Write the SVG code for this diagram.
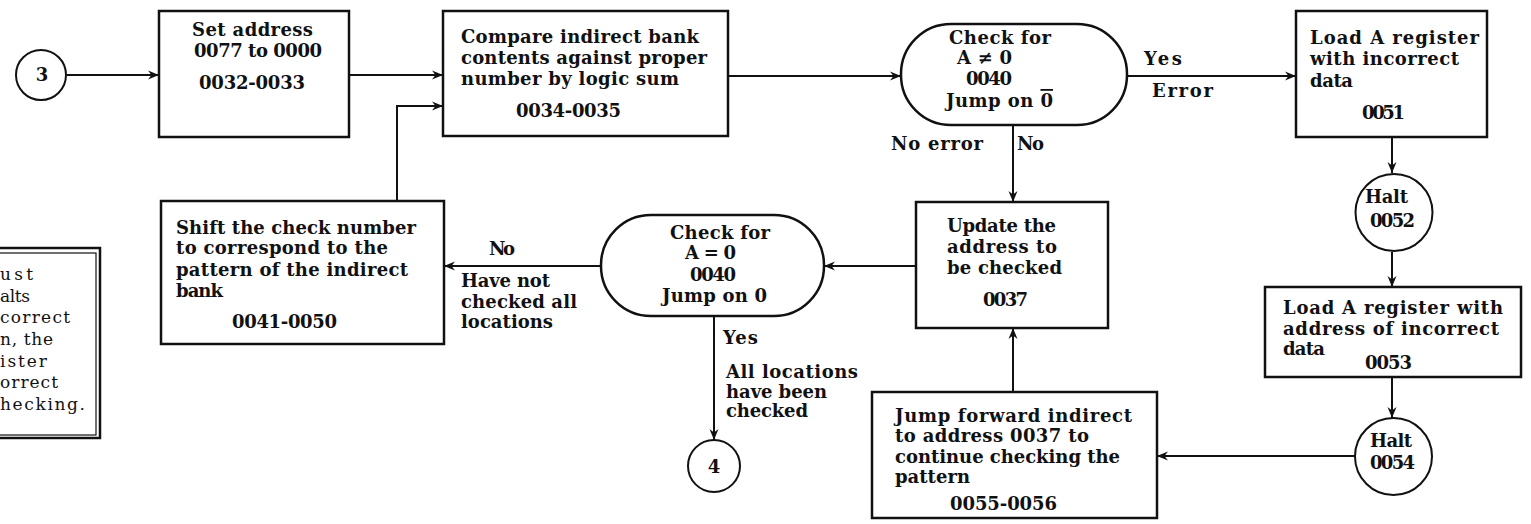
<svg xmlns="http://www.w3.org/2000/svg" width="1531" height="524" viewBox="0 0 1531 524">
<style>
.box{fill:#fff;stroke:#111;stroke-width:2.5}
.t{font-family:"DejaVu Serif","Liberation Serif",serif;font-weight:bold;font-size:18px;fill:#111}
.n{font-family:"DejaVu Serif","Liberation Serif",serif;font-size:17px;fill:#111}
.c{stroke:#111;stroke-width:2;fill:none;marker-end:url(#ah)}
</style>
<defs>
<marker id="ah" markerWidth="12" markerHeight="10" refX="11" refY="5" orient="auto" markerUnits="userSpaceOnUse">
<path d="M0,0.5 L11,5 L0,9.5 L3.5,5 Z" fill="#111"/>
</marker>
</defs>
<rect width="1531" height="524" fill="#fff"/>

<g id="connectors">
<path class="c" d="M67,75 L159,75"/>
<path class="c" d="M349,75 L443,75"/>
<path class="c" d="M397,201 L397,106 L443,106"/>
<path class="c" d="M728,76 L901,76"/>
<path class="c" d="M1127,76 L1296,76"/>
<path class="c" d="M1013,125 L1013,202"/>
<path class="c" d="M1392,137 L1392,173"/>
<path class="c" d="M1392,252 L1392,287"/>
<path class="c" d="M1392,377 L1392,418"/>
<path class="c" d="M1355,456 L1157,456"/>
<path class="c" d="M1013,392 L1013,328"/>
<path class="c" d="M916,266 L824,266"/>
<path class="c" d="M601,266 L444,266"/>
<path class="c" d="M714,316 L714,440"/>
</g>

<g id="labels">
<text class="t" x="1144" y="65" textLength="38">Yes</text>
<text class="t" x="1152" y="97" textLength="61">Error</text>
<text class="t" x="891" y="150" textLength="92">No error</text>
<text class="t" x="1017" y="150" textLength="27">No</text>
<text class="t" x="489" y="255" textLength="26">No</text>
<text class="t" x="461" y="287" textLength="89">Have not</text>
<text class="t" x="461" y="308" textLength="116">checked all</text>
<text class="t" x="461" y="328" textLength="92">locations</text>
<text class="t" x="723" y="344" textLength="35">Yes</text>
<text class="t" x="726" y="378" textLength="132">All locations</text>
<text class="t" x="726" y="398" textLength="101">have been</text>
<text class="t" x="726" y="417" textLength="82">checked</text>
</g>

<g id="c3">
<circle cx="41" cy="75" r="25" fill="#fff" stroke="#111" stroke-width="2"/>
<text class="t" x="42" y="81" text-anchor="middle">3</text>
</g>

<g id="b1">
<rect class="box" x="159" y="11" width="190" height="126"/>
<text class="t" x="192" y="36" textLength="121">Set address</text>
<text class="t" x="194" y="57" textLength="128">0077 to 0000</text>
<text class="t" x="199" y="89" textLength="106">0032-0033</text>
</g>

<g id="b2">
<rect class="box" x="443" y="11" width="285" height="125"/>
<text class="t" x="461" y="43" textLength="238">Compare indirect bank</text>
<text class="t" x="461" y="64" textLength="246">contents against proper</text>
<text class="t" x="461" y="85" textLength="218">number by logic sum</text>
<text class="t" x="516" y="117" textLength="105">0034-0035</text>
</g>

<g id="d1">
<rect class="box" x="901" y="24" width="226" height="101" rx="50" ry="50"/>
<text class="t" x="949" y="44" textLength="102">Check for</text>
<text class="t" x="957" y="64" textLength="55">A ≠ 0</text>
<text class="t" x="966" y="85" textLength="46">0040</text>
<text class="t" x="946" y="107" textLength="107">Jump on <tspan style="text-decoration:overline">0</tspan></text>
</g>

<g id="b3">
<rect class="box" x="1296" y="11" width="191" height="126"/>
<text class="t" x="1310" y="44" textLength="169">Load A register</text>
<text class="t" x="1310" y="65" textLength="149">with incorrect</text>
<text class="t" x="1310" y="87" textLength="43">data</text>
<text class="t" x="1362" y="119" textLength="43">0051</text>
</g>

<g id="h1">
<circle cx="1394" cy="212.5" r="38.5" fill="#fff" stroke="#111" stroke-width="2"/>
<text class="t" x="1365" y="203" textLength="43">Halt</text>
<text class="t" x="1370" y="227" textLength="45">0052</text>
</g>

<g id="b4">
<rect class="box" x="1265" y="287" width="256" height="90"/>
<text class="t" x="1283" y="314" textLength="220">Load A register with</text>
<text class="t" x="1283" y="335" textLength="216">address of incorrect</text>
<text class="t" x="1283" y="355" textLength="42">data</text>
<text class="t" x="1365" y="369" textLength="47">0053</text>
</g>

<g id="h2">
<circle cx="1393.5" cy="456.5" r="38.5" fill="#fff" stroke="#111" stroke-width="2"/>
<text class="t" x="1370" y="447" textLength="42">Halt</text>
<text class="t" x="1370" y="469" textLength="45">0054</text>
</g>

<g id="b5">
<rect class="box" x="916" y="202" width="192" height="126"/>
<text class="t" x="947" y="232" textLength="109">Update the</text>
<text class="t" x="947" y="253" textLength="110">address to</text>
<text class="t" x="947" y="274" textLength="115">be checked</text>
<text class="t" x="983" y="306" textLength="45">0037</text>
</g>

<g id="b6">
<rect class="box" x="872" y="392" width="285" height="126"/>
<text class="t" x="895" y="422" textLength="237">Jump forward indirect</text>
<text class="t" x="895" y="442" textLength="194">to address 0037 to</text>
<text class="t" x="895" y="463" textLength="225">continue checking the</text>
<text class="t" x="895" y="483" textLength="75">pattern</text>
<text class="t" x="950" y="510" textLength="107">0055-0056</text>
</g>

<g id="d2">
<rect class="box" x="601" y="215" width="223" height="101" rx="50" ry="50"/>
<text class="t" x="670" y="239" textLength="100">Check for</text>
<text class="t" x="685" y="259" textLength="51">A = 0</text>
<text class="t" x="690" y="281" textLength="46">0040</text>
<text class="t" x="662" y="302" textLength="105">Jump on 0</text>
</g>

<g id="c4">
<circle cx="714" cy="466" r="26" fill="#fff" stroke="#111" stroke-width="2"/>
<text class="t" x="714" y="473" text-anchor="middle">4</text>
</g>

<g id="b7">
<rect class="box" x="161" y="201" width="283" height="143"/>
<text class="t" x="176" y="234" textLength="240">Shift the check number</text>
<text class="t" x="176" y="254" textLength="212">to correspond to the</text>
<text class="t" x="176" y="276" textLength="232">pattern of the indirect</text>
<text class="t" x="176" y="297" textLength="47">bank</text>
<text class="t" x="232" y="328" textLength="105">0041-0050</text>
</g>

<g id="note">
<rect x="-10" y="248" width="110" height="190" fill="#fff" stroke="#111" stroke-width="2.5"/>
<rect x="-10" y="253" width="106" height="182" fill="none" stroke="#111" stroke-width="1.2"/>
<text class="n" x="0" y="280" textLength="33">ust</text>
<text class="n" x="0" y="302" textLength="30">alts</text>
<text class="n" x="0" y="323" textLength="70">correct</text>
<text class="n" x="0" y="345" textLength="53">n, the</text>
<text class="n" x="0" y="367" textLength="47">ister</text>
<text class="n" x="0" y="388" textLength="58">orrect</text>
<text class="n" x="0" y="410" textLength="85">hecking.</text>
</g>
</svg>
